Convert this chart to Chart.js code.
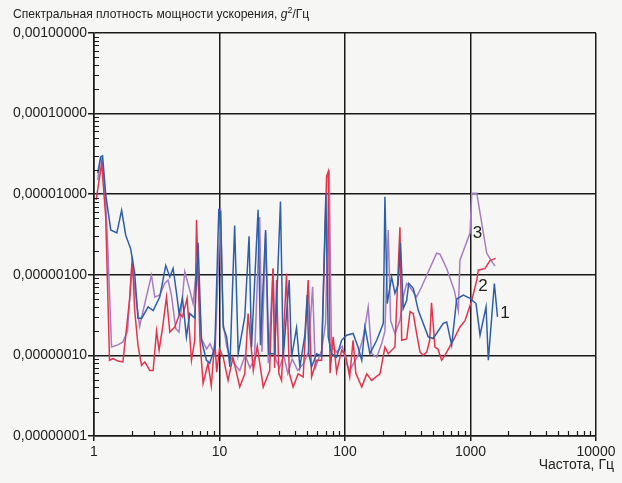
<!DOCTYPE html>
<html><head><meta charset="utf-8">
<script src="https://cdn.jsdelivr.net/npm/chart.js@4.4.0/dist/chart.umd.min.js"></script>
<style>
html,body{margin:0;padding:0;background:#f6f7f5;}
#wrap{position:relative;width:622px;height:483px;overflow:hidden;}
#title{position:absolute;left:13px;top:6px;font:13px "Liberation Sans",Arial,sans-serif;color:#222;white-space:nowrap;transform:scaleX(0.93);transform-origin:0 0;}
#title sup{font-size:9.5px;vertical-align:5px;line-height:0;}
#xt{position:absolute;right:8px;top:456px;font:14px "Liberation Sans",Arial,sans-serif;color:#222;white-space:nowrap;}
canvas{position:absolute;left:0;top:0;}
</style></head><body>
<div id="wrap"><canvas id="c" width="622" height="483"></canvas>
<div id="title">Спектральная плотность мощности ускорения, <i>g</i><sup>2</sup>/Гц</div>
<div id="xt">Частота, Гц</div></div>
<script>
// Series 1 (blue)
const freq1 = [1.07,1.13,1.17,1.24,1.36,1.52,1.66,1.79,1.96,2.11,2.24,2.40,2.70,2.96,3.34,3.73,4.02,4.27,4.59,4.76,5.07,5.45,5.80,6.35,6.75,7.18,7.87,8.37,9.18,9.87,10.2,10.7,11.4,12.1,13.2,14.1,15.9,17.2,18.0,20.3,21.2,23.3,24.7,27.5,30.6,32.2,35.9,37.5,41.1,43.7,47.9,50.0,51.5,54.2,59.4,65.1,70.4,73.5,78.2,85.7,94.0,103,116,127,136,144,158,179,202,208,217,235,250,265,277,291,310,322,350,384,461,504,607,646,708,776,877,991,1106,1191,1330,1387,1549,1641];
const val1 = [1.83e-5,2.9e-5,3.0e-5,9.8e-6,3.6e-6,3.3e-6,6.3e-6,3.1e-6,2.1e-6,1.04e-6,2.9e-7,2.9e-7,4.0e-7,3.6e-7,5.3e-7,1.3e-6,9.4e-7,1.2e-6,5.3e-7,3.3e-7,5.1e-7,1.7e-7,3.3e-7,2.9e-7,2.5e-6,1.54e-7,8.7e-8,8.0e-8,1.27e-7,6.4e-6,6.1e-6,2.25e-7,1.7e-7,7.2e-8,4.1e-6,1.05e-7,3.0e-7,3.0e-6,1.27e-7,6.4e-6,1.34e-7,3.6e-6,1.05e-7,1.05e-7,8.1e-6,9.5e-8,8.6e-7,9.5e-8,2.2e-7,7.2e-8,1.78e-7,5.6e-7,1.05e-7,7.2e-8,1.05e-7,9.8e-8,1.03e-5,1.7e-7,1.05e-7,9.5e-8,1.54e-7,1.78e-7,1.87e-7,1.27e-7,8.7e-8,2.25e-7,1.05e-7,1.54e-7,2.5e-7,9.3e-6,4.4e-7,9.4e-7,5.9e-7,7.5e-7,2.5e-6,3.8e-7,4.8e-7,7.8e-7,6.8e-7,3.6e-7,1.7e-7,1.62e-7,2.5e-7,2.6e-7,1.34e-7,5.0e-7,5.6e-7,5.1e-7,4.4e-7,1.78e-7,4.0e-7,8.7e-8,7.8e-7,3.0e-7];
// Series 2 (red)
const freq2 = [1.04,1.15,1.24,1.33,1.42,1.55,1.70,1.93,2.02,2.11,2.24,2.39,2.54,2.78,2.96,3.15,3.30,3.51,3.78,4.02,4.40,4.82,5.07,5.52,5.98,6.35,6.56,7.0,7.4,8.1,8.6,9.18,9.5,10.0,10.7,11.7,12.8,14.5,15.9,16.9,18.6,20.0,22.3,25.1,26.7,27.5,28.5,29.7,31.2,34.2,36.0,38.6,42.3,46.4,50.9,54.2,59.4,65.1,71.3,73.5,76.0,80.5,85.7,94.0,101,109,116,122,136,149,163,190,208,221,250,274,283,310,330,350,372,396,420,448,473,489,521,550,589,646,729,824,904,1023,1122,1153,1306,1429,1589];
const val2 = [8.5e-6,2.4e-5,5.2e-6,8.7e-8,9.1e-8,8.5e-8,8.3e-8,5.3e-7,1.67e-6,3.6e-7,1.34e-7,7.5e-8,8.3e-8,6.5e-8,6.5e-8,2.0e-7,1.16e-7,2.15e-7,5.3e-7,1.95e-7,2.25e-7,3.3e-7,3.0e-7,5.1e-7,8.7e-8,1.54e-7,4.8e-6,1.5e-7,4.5e-8,8.0e-8,4.2e-8,1.54e-7,6.2e-8,1.2e-7,9.5e-8,4.9e-8,9.5e-8,4.05e-8,5.9e-8,3.3e-7,6.5e-8,1.3e-7,4.05e-8,6.5e-8,1.2e-6,7.0e-8,8.6e-7,6.0e-8,4.9e-8,1.04e-6,6.0e-8,4.05e-8,5.9e-8,5.4e-8,8.6e-7,5.4e-8,8.7e-8,8.7e-8,1.65e-5,1.9e-5,6.0e-8,1.7e-7,6.2e-8,1.16e-7,1.0e-7,5.4e-8,1.54e-7,6.0e-8,4.05e-8,5.9e-8,4.9e-8,5.9e-8,1.27e-7,1.05e-7,1.27e-7,3.9e-6,1.54e-7,1.6e-7,3.5e-7,3.3e-7,1.87e-7,1.1e-7,1.0e-7,1.1e-7,1.54e-7,4.5e-7,1.27e-7,1.2e-7,8.7e-8,1.1e-7,1.54e-7,2.25e-7,2.7e-7,4.8e-7,8.6e-7,1.14e-6,1.2e-6,1.5e-6,1.6e-6];
// Series 3 (violet)
const freq3 = [1.07,1.13,1.17,1.24,1.30,1.38,1.55,1.70,1.85,2.00,2.11,2.31,2.54,2.87,3.05,3.34,3.66,3.89,4.14,4.48,4.76,5.29,5.80,6.16,6.63,7.2,7.9,8.4,9.2,10.2,10.7,11.4,12.1,13.0,14.5,16.0,17.5,19.0,20.9,21.8,23.3,24.5,26.7,28.0,30.0,32.5,35.0,38.0,42.0,47.0,51.0,55.2,58.0,65.1,70,74.8,78,85.7,95,103,109,127,140,153,163,179,196,208,221,231,250,274,291,310,330,372,408,461,537,571,646,743,800,824,991,1023,1122,1346,1456,1567];
const val3 = [1.5e-5,2.8e-5,2.5e-5,8.0e-6,1.5e-6,1.27e-7,1.35e-7,1.47e-7,2.0e-7,1.3e-6,7.0e-7,2.3e-7,4.4e-7,9.9e-7,5.3e-7,5.6e-7,7.8e-7,8.6e-7,5.6e-7,2.15e-7,1.95e-7,1.09e-6,6.4e-7,4.4e-7,1.4e-6,1.6e-7,1.2e-7,1.4e-7,1.0e-7,6.7e-6,2.5e-7,1.3e-7,1.0e-7,8.0e-8,6.5e-8,1.0e-7,7.0e-8,9.0e-8,5.2e-6,1.1e-7,3.4e-6,8.0e-8,1.2e-6,9.0e-8,7.0e-8,1.0e-7,6.0e-8,9.0e-8,6.5e-8,8.0e-8,1.1e-7,7.1e-7,7.0e-8,1.16e-7,2.5e-7,2.0e-5,1.3e-7,1.1e-7,1.3e-7,8.0e-8,6.5e-8,1.0e-7,1.7e-7,4.0e-7,1.05e-7,9.5e-8,1.4e-7,2.0e-7,3.6e-6,2.7e-7,1.87e-7,2.7e-7,5.3e-7,7.8e-7,7.0e-7,5.3e-7,7.1e-7,1.09e-6,1.86e-6,1.8e-6,1.2e-6,6.4e-7,3.6e-7,1.52e-6,3.3e-6,1.03e-5,1.03e-5,1.86e-6,1.52e-6,1.28e-6];
// Axis ticks
const xTicks = [1,10,100,1000,10000];
const yTicks = [1e-8,1e-7,1e-6,1e-5,1e-4,1e-3];
// Curve labels (text, frequency, value)
const curveLabels = [["3",1137,3.3e-6],["2",1259,7.2e-7],["1",1884,3.3e-7]];

const pts = (f,v) => f.map((x,i)=>({x:x,y:v[i]}));
const FONT = '"Liberation Sans", Arial, sans-serif';

const minorTicks = {
  id:'minorTicks',
  afterDraw(chart){
    const ctx=chart.ctx, xs=chart.scales.x, ys=chart.scales.y, a=chart.chartArea;
    ctx.save(); ctx.strokeStyle='#1a1a1a'; ctx.lineWidth=1.2;
    ctx.beginPath();
    for(let d=1e-8; d<1e-3*0.99; d*=10){
      for(let m=2;m<=9;m++){ const y=Math.round(ys.getPixelForValue(m*d))+0.5; ctx.moveTo(a.left,y); ctx.lineTo(a.left+5,y); }
    }
    for(let d=1; d<10000*0.99; d*=10){
      for(let m=2;m<=9;m++){ const x=Math.round(xs.getPixelForValue(m*d))+0.5; ctx.moveTo(x,a.bottom); ctx.lineTo(x,a.bottom-5); }
    }
    ctx.stroke();
    ctx.fillStyle='#222'; ctx.font='17px '+FONT; ctx.textAlign='center'; ctx.textBaseline='middle';
    curveLabels.forEach(l=>ctx.fillText(l[0], xs.getPixelForValue(l[1]), ys.getPixelForValue(l[2])));
    ctx.restore();
  }
};

const ds = (label,f,v,color)=>({label, data:pts(f,v), borderColor:color, borderWidth:1.5, pointRadius:0, tension:0, fill:false});

new Chart(document.getElementById('c'), {
  type:'line',
  data:{datasets:[
    ds('1',freq1,val1,'#2f5ea9'),
    ds('2',freq2,val2,'#e3334d'),
    ds('3',freq3,val3,'#a67cc2')
  ]},
  options:{
    responsive:false, animation:false, parsing:true,
    layout:{padding:{top:33,right:26,left:0,bottom:0}},
    plugins:{legend:{display:false}, tooltip:{enabled:false}, title:{display:false}},
    scales:{
      x:{type:'logarithmic', min:1, max:10000,
        afterBuildTicks:s=>{s.ticks=xTicks.map(v=>({value:v,major:true}));},
        afterFit:s=>{s.height=47;},
        grid:{color:'#1a1a1a', lineWidth:1.5, tickLength:5, drawTicks:true},
        border:{color:'#1a1a1a', width:1.5},
        ticks:{color:'#222', font:{family:FONT,size:14}, padding:3, maxRotation:0, autoSkip:false, callback:v=>String(v)}
      },
      y:{type:'logarithmic', min:1e-8, max:1e-3,
        afterBuildTicks:s=>{s.ticks=yTicks.map(v=>({value:v,major:true}));},
        afterFit:s=>{s.width=94;},
        grid:{color:'#1a1a1a', lineWidth:1.5, tickLength:6, drawTicks:true},
        border:{color:'#1a1a1a', width:1.5},
        ticks:{color:'#222', font:{family:FONT,size:14}, padding:1, autoSkip:false, callback:v=>Number(v).toFixed(8).replace('.',',')}
      }
    }
  },
  plugins:[minorTicks]
});
</script>
</body></html>
